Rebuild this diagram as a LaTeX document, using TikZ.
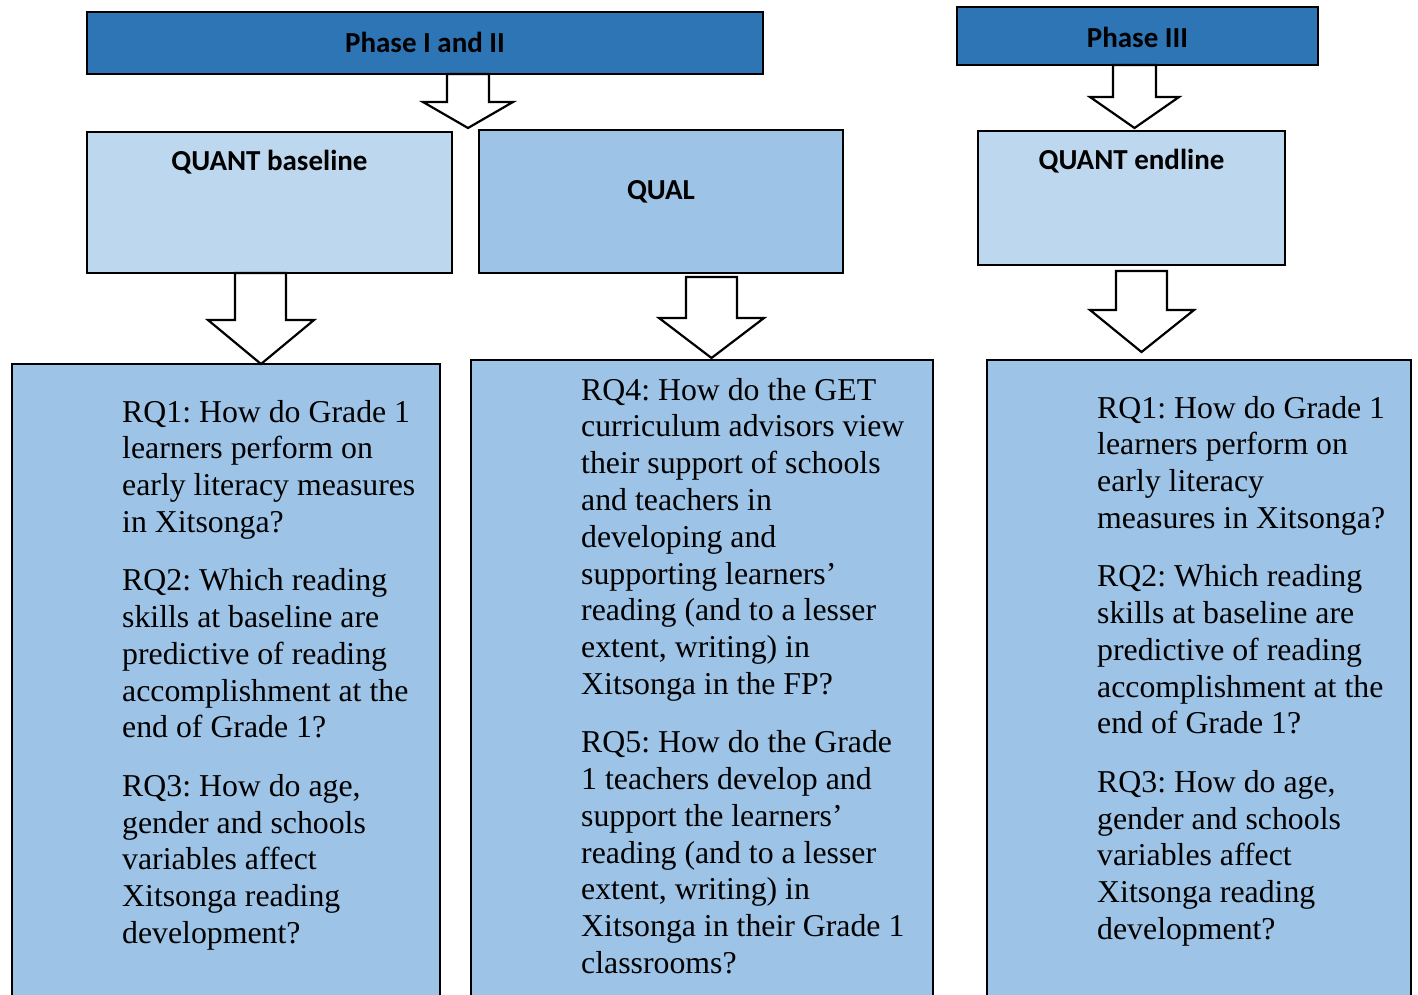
\documentclass[tikz,border=0pt]{standalone}
\usepackage{fontspec}
\setmainfont{Liberation Serif}
\newfontfamily\hdfont{Carlito}
\definecolor{hdblue}{HTML}{2E75B6}
\definecolor{lightblue}{HTML}{BDD7EE}
\definecolor{midblue}{HTML}{9DC3E6}
\frenchspacing
\tikzset{
  hdbox/.style={draw=black, line width=2.2pt, fill=hdblue, inner sep=0pt},
  lbox/.style={draw=black, line width=2.2pt, fill=lightblue, inner sep=0pt},
  mbox/.style={draw=black, line width=2.2pt, fill=midblue, inner sep=0pt},
  hdtext/.style={font=\hdfont\bfseries\fontsize{29}{33}\selectfont, inner sep=0pt, text=black},
  rqtext/.style={anchor=base west, inner sep=0pt, text=black},
  blockarrow/.style={draw=black, line width=2.2pt, fill=white, line join=miter}
}
\newcommand{\rqpar}[2]{\parbox[t]{#1}{\fontsize{31.8}{36.8}\selectfont\frenchspacing\raggedright\setlength{\parskip}{21.5pt}#2}}
\begin{document}
\begin{tikzpicture}[x=1pt,y=-1pt]
\useasboundingbox (0,0) rectangle (1418,995);
\clip (0,0) rectangle (1418,995);
\fill[white] (0,0) rectangle (1418,995);

% header boxes
\node[hdbox, minimum width=676pt, minimum height=62pt] (p12) at (425,43) {};
\node[hdtext] (p12t) at (425,42) {Phase I and II};
\node[hdbox, minimum width=361pt, minimum height=58pt] (p3) at (1137.5,36) {};
\node[hdtext] (p3t) at (1137.5,37) {Phase III};

% method boxes
\node[lbox, minimum width=365pt, minimum height=141pt] (qb) at (269.5,202.5) {};
\node[hdtext] (qbt) at (269.5,162) {QUANT baseline};
\node[mbox, minimum width=364pt, minimum height=143pt] (ql) at (661,201.5) {};
\node[hdtext] (qlt) at (661,192) {QUAL};
\node[lbox, minimum width=307pt, minimum height=134pt] (qe) at (1131.5,198) {};
\node[hdtext] (qet) at (1131.5,161) {QUANT endline};

% block arrows
\draw[blockarrow] (447,74) -- (447,102) -- (423,102) -- (468,128) -- (513,102) -- (489,102) -- (489,74) -- cycle;
\draw[blockarrow] (1113,65) -- (1113,97) -- (1090,97) -- (1134.5,128) -- (1179,97) -- (1156,97) -- (1156,65) -- cycle;

% bottom boxes (run off the page)
\node[mbox, minimum width=428pt, minimum height=660pt, anchor=north west] (b1) at (11,363) {};
\node[mbox, minimum width=462pt, minimum height=660pt, anchor=north west] (b2) at (470,359) {};
\node[mbox, minimum width=424pt, minimum height=660pt, anchor=north west] (b3) at (986,359) {};

\draw[blockarrow] (235,273) -- (235,320) -- (208,320) -- (261,364) -- (314,320) -- (286,320) -- (286,273) -- cycle;
\draw[blockarrow] (686,277) -- (686,318) -- (659,318) -- (711.5,358) -- (764,318) -- (737,318) -- (737,277) -- cycle;
\draw[blockarrow] (1116,271) -- (1116,310) -- (1090,310) -- (1141.5,352) -- (1194,310) -- (1167,310) -- (1167,271) -- cycle;

% texts
\node[rqtext] (t1) at (122,422) {\rqpar{330pt}{%
RQ1: How do Grade 1\\ learners perform on\\ early literacy measures\\ in Xitsonga?\par
RQ2: Which reading\\ skills at baseline are\\ predictive of reading\\ accomplishment at the\\ end of Grade 1?\par
RQ3: How do age,\\ gender and schools\\ variables affect\\ Xitsonga reading\\ development?}};

\node[rqtext] (t2) at (581,400) {\rqpar{360pt}{%
RQ4: How do the GET\\ curriculum advisors view\\ their support of schools\\ and teachers in\\ developing and\\ supporting learners'\\ reading (and to a lesser\\ extent, writing) in\\ Xitsonga in the FP?\par
RQ5: How do the Grade\\ 1 teachers develop and\\ support the learners'\\ reading (and to a lesser\\ extent, writing) in\\ Xitsonga in their Grade 1\\ classrooms?}};

\node[rqtext] (t3) at (1097,418) {\rqpar{320pt}{%
RQ1: How do Grade 1\\ learners perform on\\ early literacy\\ measures in Xitsonga?\par
RQ2: Which reading\\ skills at baseline are\\ predictive of reading\\ accomplishment at the\\ end of Grade 1?\par
RQ3: How do age,\\ gender and schools\\ variables affect\\ Xitsonga reading\\ development?}};
\end{tikzpicture}
\end{document}
